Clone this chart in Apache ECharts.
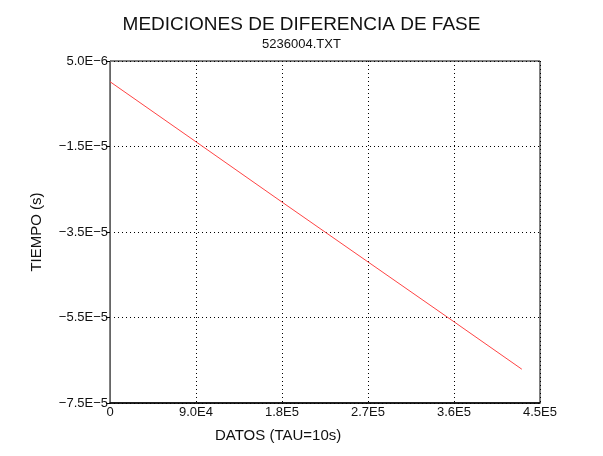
<!DOCTYPE html>
<html><head><meta charset="utf-8">
<script src="https://cdn.jsdelivr.net/npm/echarts@6/dist/echarts.min.js"></script>
<style>html,body{margin:0;padding:0;background:#fff}#c{width:603px;height:456px}</style>
</head><body><div id="c"></div>
<script>
const titleText = 'MEDICIONES DE DIFERENCIA DE FASE';
const subtitleText = '5236004.TXT';
const xName = 'DATOS (TAU=10s)';
const yName = 'TIEMPO (s)';
const xTicks = [0, 90000, 180000, 270000, 360000, 450000];
const xTickLabels = ['0', '9.0E4', '1.8E5', '2.7E5', '3.6E5', '4.5E5'];
const yTicks = [-7.5e-5, -5.5e-5, -3.5e-5, -1.5e-5, 5.0e-6];
const yTickLabels = ['\u22127.5E\u22125', '\u22125.5E\u22125', '\u22123.5E\u22125', '\u22121.5E\u22125', '5.0E\u22126'];
const xData = [0, 90000, 180000, 270000, 360000, 431000];
const yData = [1.6e-7, -1.39e-5, -2.8e-5, -4.2e-5, -5.6e-5, -6.71e-5];

function nearestLabel(v, ticks, labels) {
  let best = 0, bd = Infinity;
  ticks.forEach((t, i) => { const d = Math.abs(t - v); if (d < bd) { bd = d; best = i; } });
  return labels[best];
}
const font = 'Liberation Sans';
const chart = echarts.init(document.getElementById('c'), null, {renderer: 'canvas'});
chart.setOption({
  animation: false,
  backgroundColor: '#fff',
  title: [
    {text: titleText, left: 'center', top: 10, textStyle: {fontFamily: font, fontSize: 19, fontWeight: 'normal', color: '#111'}},
    {text: subtitleText, left: 'center', top: 33, textStyle: {fontFamily: font, fontSize: 13, fontWeight: 'normal', color: '#111'}}
  ],
  graphic: [
    {type: 'text', left: 215, top: 428, style: {text: xName, font: '15px ' + font, fill: '#111'}}
  ],
  grid: {left: 110, right: 63, top: 61, bottom: 53, show: true, borderColor: '#000', borderWidth: 1, containLabel: false},
  xAxis: {
    type: 'value', min: xTicks[0], max: xTicks[xTicks.length - 1], interval: xTicks[1] - xTicks[0],
    axisLine: {show: true, onZero: false, lineStyle: {color: '#000', width: 1.5}},
    axisTick: {show: false},
    axisLabel: {fontFamily: font, fontSize: 13, color: '#111', margin: 3,
      formatter: v => nearestLabel(v, xTicks, xTickLabels)},
    splitLine: {show: true, lineStyle: {type: [1, 3], color: '#000', width: 1}}
  },
  yAxis: {
    type: 'value', min: yTicks[0], max: yTicks[yTicks.length - 1], interval: yTicks[1] - yTicks[0],
    name: yName, nameLocation: 'middle', nameRotate: 90, nameGap: 66,
    nameTextStyle: {fontFamily: font, fontSize: 15, color: '#111'},
    axisLine: {show: true, onZero: false, lineStyle: {color: '#666', width: 1}},
    axisTick: {show: true, length: 4, lineStyle: {color: '#000'}},
    axisLabel: {fontFamily: font, fontSize: 13, color: '#111', margin: 2,
      formatter: v => nearestLabel(v, yTicks, yTickLabels)},
    splitLine: {show: true, lineStyle: {type: [1, 3], color: '#000', width: 1}}
  },
  series: [{
    type: 'line', data: xData.map((x, i) => [x, yData[i]]), showSymbol: false, symbol: 'none',
    lineStyle: {color: '#ff4444', width: 1}, z: 3
  }]
});
</script></body></html>
